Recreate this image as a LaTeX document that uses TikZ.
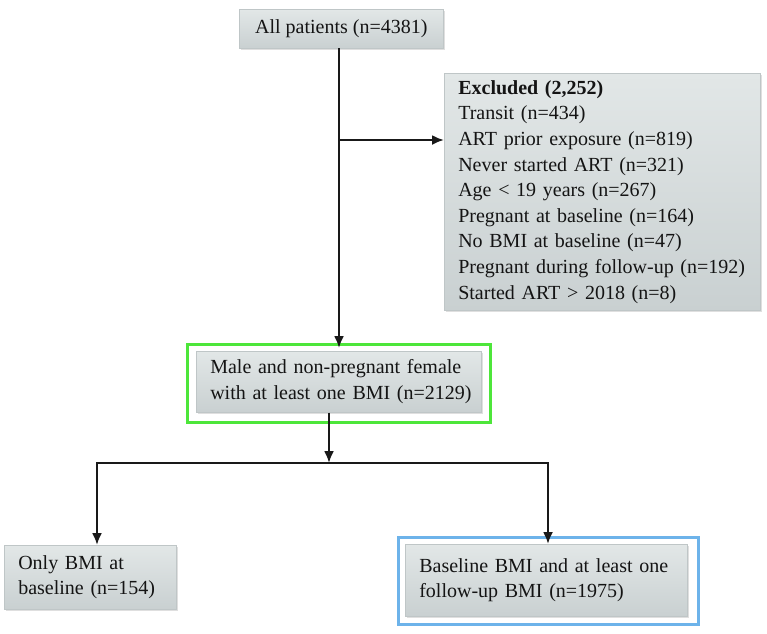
\documentclass[tikz,border=0pt]{standalone}
\usepackage{fontspec}
\setmainfont{Liberation Serif}
\usetikzlibrary{arrows.meta,positioning,calc,shadows}

\definecolor{boxtop}{HTML}{E2E7E7}
\definecolor{boxbot}{HTML}{C9D0D1}
\definecolor{boxedge}{HTML}{BFC6C7}
\definecolor{inktext}{HTML}{141414}
\definecolor{framegreen}{HTML}{4DE63A}
\definecolor{frameblue}{HTML}{6DB3EA}

\tikzset{
  flowbox/.style={rectangle, anchor=north west, top color=boxtop, bottom color=boxbot,
    draw=boxedge, line width=0.6pt, inner xsep=14pt, inner ysep=0pt, align=left,
    text=inktext, font=\fontsize{20}{25.6}\selectfont,
    drop shadow={shadow xshift=1.5pt, shadow yshift=-1.5pt, opacity=0.25}},
  framebox/.style={rectangle, anchor=north west, line width=2.6pt, inner sep=0pt},
  flowarrow/.style={-{Latex[length=12pt,width=10pt]}, line width=2.2pt, draw=black!90},
}

\begin{document}
\begin{tikzpicture}[x=1pt,y=-1pt]
\useasboundingbox (0,0) rectangle (767,633);

% frames behind the boxes
\node[framebox, draw=framegreen, minimum width=303, minimum height=78] (cohortframe) at (186,343) {};
\node[framebox, draw=frameblue, minimum width=300, minimum height=87] (followframe) at (397,536) {};

% boxes
\node[flowbox, minimum width=204, minimum height=39, align=center, inner xsep=0pt] (allpts) at (239,9) {All patients (n=4381)};
\node[flowbox, minimum width=316, minimum height=237, text width=288pt] (excluded) at (444,73)
  {\textbf{Excluded (2,252)}\\
   Transit (n=434)\\
   ART prior exposure (n=819)\\
   Never started ART (n=321)\\
   Age < 19 years (n=267)\\
   Pregnant at baseline (n=164)\\
   No BMI at baseline (n=47)\\
   Pregnant during follow-up (n=192)\\
   Started ART > 2018 (n=8)};
\node[flowbox, minimum width=285, minimum height=61, text width=257pt] (cohort) at (196,351)
  {Male and non-pregnant female\\with~at~least~one~BMI~(n=2129)\hss};
\node[flowbox, minimum width=172, minimum height=64, text width=144pt] (onlybmi) at (4,545)
  {Only BMI at\\baseline (n=154)};
\node[flowbox, minimum width=282, minimum height=72, text width=254pt] (baseline) at (405,544)
  {Baseline BMI and at least one\\follow-up BMI (n=1975)};

% connectors
\coordinate (spine) at (339,48);
\coordinate (tap) at (339,140);
\coordinate (fork) at (329,463);
\coordinate (leftdrop) at (97,463);
\coordinate (rightdrop) at (548,463);

\draw[flowarrow, shorten >=3pt] (spine) -- (spine |- cohort.north);
\draw[flowarrow] (tap) -- (tap -| excluded.west);
\draw[flowarrow] (fork |- cohort.south) -- (fork);
\draw[flowarrow, {Latex[length=12pt,width=10pt]}-{Latex[length=12pt,width=10pt]}, line join=miter]
  (leftdrop |- onlybmi.north) -- (leftdrop) -- (rightdrop) -- (rightdrop |- baseline.north);
\end{tikzpicture}
\end{document}
